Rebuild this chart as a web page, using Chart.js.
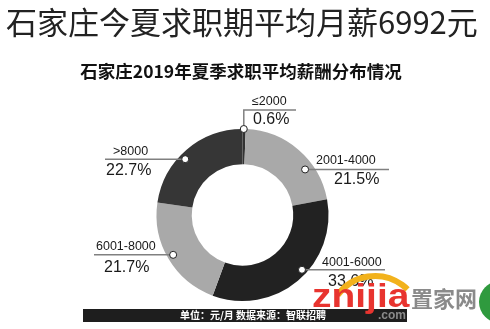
<!DOCTYPE html>
<html>
<head>
<meta charset="utf-8">
<script src="https://cdn.jsdelivr.net/npm/chart.js@4/dist/chart.umd.min.js"></script>
<style>
  html, body { margin: 0; padding: 0; background: #fff; }
  #wrap { width: 490px; height: 329px; }
</style>
</head>
<body>
<div id="wrap"><canvas id="salaryChart" width="490" height="329"></canvas></div>
<script>
// salary bands and their share of job seekers (%)
const categories = ['≤2000', '2001-4000', '4001-6000', '6001-8000', '>8000'];
const shares = [0.6, 21.5, 33.6, 21.7, 22.7];
const sliceColors = ['#333333', '#a9a9a9', '#222222', '#a9a9a9', '#363636'];

const headline = '石家庄今夏求职期平均月薪6992元';
const chartTitle = '石家庄2019年夏季求职平均薪酬分布情况';
const footnote = '单位：元/月 数据来源：智联招聘';

// where each callout sits: t = fraction along the slice, r = fraction of outer radius
const callouts = [
    {t: 0.4,  r: 1.0,  elbowY: 110, lineTo: 296, nameX: 252, nameDy: -8,  pctX: 253, pctDy: 9.5},
    {t: 0.67, r: 0.9,  lineTo: 389, nameX: 316, nameDy: -9, pctX: 334, pctDy: 10},
    {t: 0.44, r: 0.94, lineTo: 385, nameX: 322, nameDy: -7.5, pctX: 328, pctDy: 12},
    {t: 0.51, r: 0.93, lineTo: 94,  nameX: 96,  nameDy: -8.5, pctX: 104, pctDy: 12.5},
    {t: 0.44, r: 0.93, lineTo: 105, nameX: 113, nameDy: -7.5, pctX: 106, pctDy: 11.5}
];

const labelFont = '"Liberation Sans", Arial, sans-serif';
const cjkFont = '"Noto Sans CJK SC", sans-serif';

const decorations = {
    id: 'decorations',
    afterDraw(chart) {
        const ctx = chart.ctx;
        const arcs = chart.getDatasetMeta(0).data;
        ctx.save();

        // headings
        ctx.fillStyle = '#222';
        ctx.textBaseline = 'middle';
        ctx.textAlign = 'left';
        ctx.font = '31px ' + cjkFont;
        ctx.fillText(headline, 6, 22);
        ctx.textAlign = 'center';
        ctx.fillStyle = '#111';
        ctx.font = 'bold 17.5px ' + cjkFont;
        ctx.fillText(chartTitle, 241, 71);

        // callouts with leader lines
        arcs.forEach((arc, i) => {
            const c = callouts[i];
            const p = arc.getProps(['x', 'y', 'startAngle', 'endAngle', 'outerRadius'], true);
            const ang = p.startAngle + c.t * (p.endAngle - p.startAngle);
            const dx = p.x + Math.cos(ang) * p.outerRadius * c.r;
            const dy = p.y + Math.sin(ang) * p.outerRadius * c.r;
            const lineY = c.elbowY !== undefined ? c.elbowY : dy;

            ctx.strokeStyle = '#808080';
            ctx.lineWidth = 1.5;
            ctx.beginPath();
            ctx.moveTo(dx, dy);
            if (c.elbowY !== undefined) ctx.lineTo(dx, c.elbowY);
            ctx.lineTo(c.lineTo, lineY);
            ctx.stroke();

            ctx.fillStyle = '#fff';
            ctx.strokeStyle = '#222';
            ctx.lineWidth = 1;
            ctx.beginPath();
            ctx.arc(dx, dy, 3.5, 0, Math.PI * 2);
            ctx.fill();
            ctx.stroke();

            ctx.fillStyle = '#1a1a1a';
            ctx.textAlign = 'left';
            ctx.font = '12.5px ' + labelFont;
            ctx.fillText(categories[i], c.nameX, lineY + c.nameDy);
            ctx.font = '16px ' + labelFont;
            ctx.fillText(shares[i].toFixed(1) + '%', c.pctX, lineY + c.pctDy);
        });

        // source bar
        ctx.fillStyle = '#1e1e1e';
        ctx.fillRect(83, 309, 324, 13);
        ctx.fillStyle = '#fff';
        ctx.textAlign = 'center';
        ctx.font = 'bold 10px ' + cjkFont;
        ctx.fillText(footnote, 253, 315.5);

        // site watermark
        ctx.strokeStyle = '#f2b21c';
        ctx.lineWidth = 6;
        ctx.beginPath();
        ctx.arc(375, 322, 46, Math.PI * 1.2, Math.PI * 1.75);
        ctx.stroke();
        ctx.textAlign = 'left';
        ctx.textBaseline = 'alphabetic';
        ctx.fillStyle = '#e8342f';
        ctx.font = 'bold 33px ' + labelFont;
        ctx.save();
        ctx.translate(312, 307);
        ctx.scale(1.18, 1);
        ctx.fillText('znijia', 0, 0);
        ctx.restore();
        ctx.fillStyle = '#8a8a8a';
        ctx.font = 'bold 22px ' + cjkFont;
        ctx.fillText('置家网', 411, 307);
        ctx.font = 'bold 12px ' + labelFont;
        ctx.fillText('.com', 378, 319);
        ctx.fillStyle = '#2f9a3e';
        ctx.beginPath();
        ctx.arc(500, 302, 21, 0, Math.PI * 2);
        ctx.fill();
        ctx.restore();
    }
};

new Chart(document.getElementById('salaryChart'), {
    type: 'doughnut',
    data: {
        labels: categories,
        datasets: [{
            data: shares,
            backgroundColor: sliceColors,
            borderWidth: 0
        }]
    },
    options: {
        responsive: false,
        animation: false,
        cutout: '59%',
        layout: {padding: {left: 156, right: 161, top: 129, bottom: 28}},
        plugins: {
            legend: {display: false},
            tooltip: {enabled: false}
        }
    },
    plugins: [decorations]
});
</script>
</body>
</html>
